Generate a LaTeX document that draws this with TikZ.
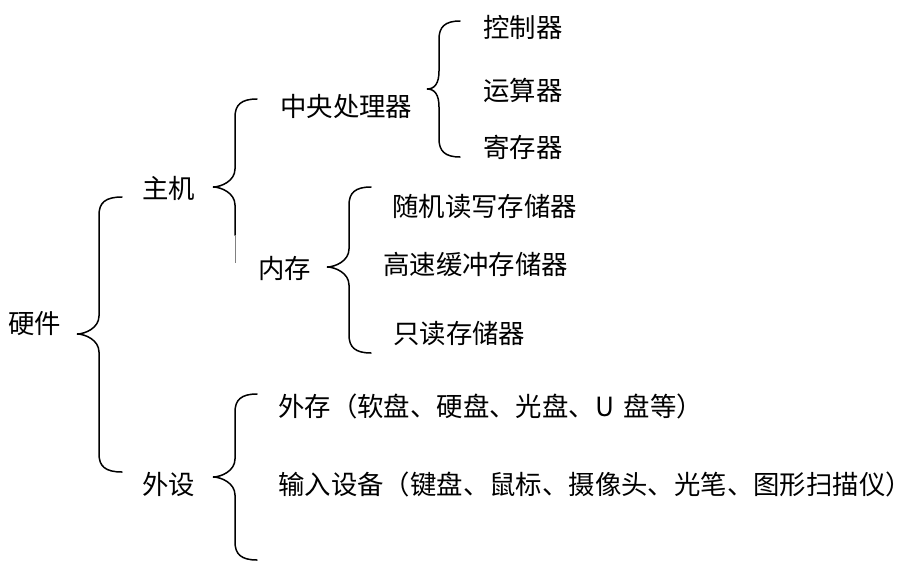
\documentclass[tikz,border=0pt]{standalone}
\usepackage{fontspec}
\newfontfamily\cjk{Noto Sans CJK SC}
\tikzset{
  lbl/.style={anchor=west,inner sep=0pt,text height=22pt,text depth=2pt,
    font=\cjk\fontsize{26.4}{26.4}\selectfont},
  bracepath/.style={line width=1.5pt,line cap=round}
}
% #1 tip x, #2 tip y, #3 stem x, #4 end x, #5 top y, #6 bottom y
\newcommand\hwbrace[6]{%
  \draw[bracepath] (#4,#5) .. controls ({#3+6},#5) and (#3,{#5+6}) .. (#3,{#5+18})
    -- (#3,{#2-18}) .. controls (#3,{#2-6}) and ({#1+8},#2) .. (#1,#2)
    .. controls ({#1+8},#2) and (#3,{#2+6}) .. (#3,{#2+18})
    -- (#3,{#6-18}) .. controls (#3,{#6-6}) and ({#3+6},#6) .. (#4,#6);}
\begin{document}
\begin{tikzpicture}[x=1pt,y=-1pt]
\useasboundingbox (0,0) rectangle (918,573);
% texts
\node[lbl] (yj) at (8,323) {硬件};
\node[lbl] (zj) at (142,188) {主机};
\node[lbl] (ws) at (142,484) {外设};
\node[lbl] (cpu) at (280,106) {中央处理器};
\node[lbl] (nc) at (258,268) {内存};
\node[lbl] (kz) at (483,27) {控制器};
\node[lbl] (ys) at (483,90) {运算器};
\node[lbl] (jc) at (483,147) {寄存器};
\node[lbl] (sj) at (392,206) {随机读写存储器};
\node[lbl] (gs) at (383,264) {高速缓冲存储器};
\node[lbl] (zd) at (393,333) {只读存储器};
\node[lbl] (wc) at (278,406) {外存（软盘、硬盘、光盘、U\hspace{0.15em} 盘等）};
\node[lbl] (sr) at (278,484) {输入设备（键盘、鼠标、摄像头、光笔、图形扫描仪）};
% braces
\hwbrace{77}{334}{99}{122}{197}{472}
\hwbrace{427}{89}{439}{460}{21}{157}
\hwbrace{327}{267}{349}{371}{187}{353}
\hwbrace{213}{477}{235}{257}{394}{560}
% brace of 主机 (lower half straight)
\draw[bracepath] (257,99) .. controls (241,99) and (235,105) .. (235,117)
  -- (235,169) .. controls (235,181) and (221,187) .. (213,187)
  .. controls (221,187) and (235,193) .. (235,205) -- (235,235);
\draw[line width=0.5pt,gray] (235,235) -- (235,263);
\end{tikzpicture}
\end{document}
